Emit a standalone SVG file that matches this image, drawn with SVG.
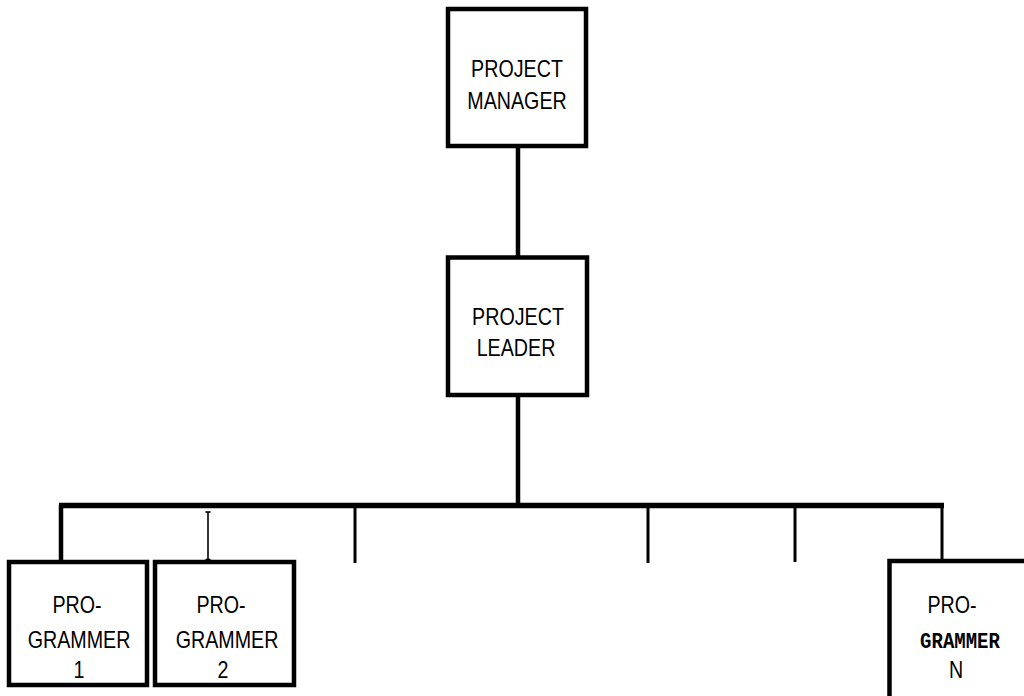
<svg xmlns="http://www.w3.org/2000/svg" width="1024" height="696" viewBox="0 0 1024 696">
  <style>
    .box { fill: #fff; stroke: #000; stroke-width: 4.5; }
    .lbl { font-family: "Liberation Sans", Arial, sans-serif; font-size: 24px; fill: #000; text-anchor: middle; }
    .mono { font-family: "Liberation Mono", "Courier New", monospace; font-size: 19px; font-weight: bold; fill: #000; text-anchor: middle; }
    .thick { stroke: #000; stroke-width: 4.5; fill: none; }
    .mid { stroke: #000; stroke-width: 3; fill: none; }
    .thin { stroke: #000; stroke-width: 1.6; fill: none; }
  </style>

  <rect width="1024" height="696" fill="#fff"/>

  <!-- connectors -->
  <g id="connectors">
    <line class="thick" x1="518" y1="146" x2="518" y2="257"/>
    <line class="thick" x1="518" y1="395" x2="518" y2="505"/>
    <line x1="59" y1="505.5" x2="944" y2="505.5" stroke="#000" stroke-width="5.5"/>
    <line class="thick" x1="61" y1="505" x2="61" y2="561"/>
    <line class="thin" x1="208" y1="512" x2="208" y2="560"/>
    <line class="thin" x1="205.5" y1="512" x2="210.5" y2="512"/>
    <line class="thin" x1="205.5" y1="559.5" x2="210.5" y2="559.5"/>
    <line class="mid" x1="355" y1="505" x2="355" y2="563"/>
    <line class="mid" x1="648" y1="505" x2="648" y2="563"/>
    <line class="mid" x1="795" y1="505" x2="795" y2="562"/>
    <line class="mid" x1="942" y1="505" x2="942" y2="561"/>
  </g>

  <!-- project manager -->
  <g id="project-manager">
    <rect class="box" x="448" y="9" width="138" height="137"/>
    <text class="lbl" transform="translate(517,77) scale(0.82,1)">PROJECT</text>
    <text class="lbl" transform="translate(517,109) scale(0.82,1)">MANAGER</text>
  </g>

  <!-- project leader -->
  <g id="project-leader">
    <rect class="box" x="448" y="257.5" width="139" height="137.5"/>
    <text class="lbl" transform="translate(518,325) scale(0.82,1)">PROJECT</text>
    <text class="lbl" transform="translate(516,356) scale(0.82,1)">LEADER</text>
  </g>

  <!-- programmer 1 -->
  <g id="programmer-1">
    <rect class="box" x="9" y="562" width="138" height="123"/>
    <text class="lbl" transform="translate(77,613) scale(0.82,1)">PRO-</text>
    <text class="lbl" transform="translate(79,648) scale(0.82,1)">GRAMMER</text>
    <text class="lbl" transform="translate(79,678) scale(0.82,1)">1</text>
  </g>

  <!-- programmer 2 -->
  <g id="programmer-2">
    <rect class="box" x="155" y="562" width="139" height="123"/>
    <text class="lbl" transform="translate(221,613) scale(0.82,1)">PRO-</text>
    <text class="lbl" transform="translate(227,648) scale(0.82,1)">GRAMMER</text>
    <text class="lbl" transform="translate(223,678) scale(0.82,1)">2</text>
  </g>

  <!-- programmer N (box runs off the page edge) -->
  <g id="programmer-n">
    <rect class="box" x="889.5" y="561" width="160" height="160"/>
    <text class="lbl" transform="translate(952,613) scale(0.82,1)">PRO-</text>
    <text class="mono" transform="translate(960,648) scale(1,1.2)">GRAMMER</text>
    <text class="lbl" transform="translate(956,678) scale(0.82,1)">N</text>
  </g>
</svg>
